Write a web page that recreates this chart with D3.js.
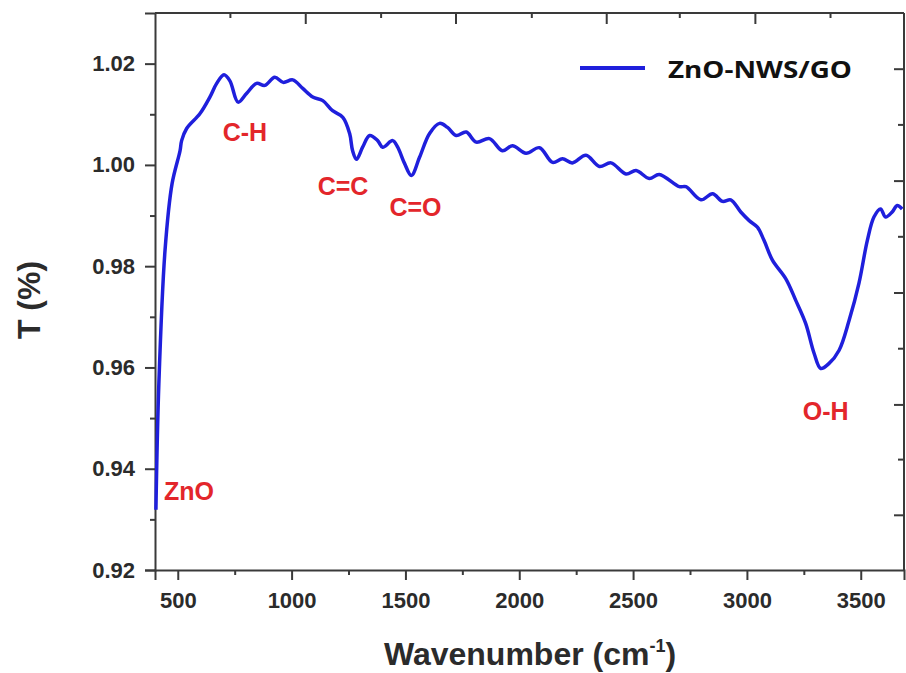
<!DOCTYPE html>
<html>
<head>
<meta charset="utf-8">
<script src="https://cdn.jsdelivr.net/npm/d3@7"></script>
<style>
  body { margin: 0; background: #fff; }
  svg { display: block; }
</style>
</head>
<body>
<svg width="906" height="673"></svg>
<script>
// FTIR spectrum, ZnO-NWS/GO
const wavenumber = [404, 417, 444, 475, 510, 517, 539, 597, 641, 671, 703, 729, 765, 802, 846, 882, 926, 963, 1005, 1049,
  1093, 1137, 1180, 1225, 1255, 1268, 1285, 1312, 1343, 1378, 1400, 1444, 1466, 1496, 1526, 1562, 1606, 1650, 1685, 1723,
  1767, 1811, 1869, 1926, 1970, 2030, 2089, 2146, 2190, 2233, 2293, 2352, 2403, 2469, 2513, 2571, 2615, 2703, 2732, 2798,
  2849, 2893, 2929, 2973, 3010, 3046, 3075, 3112, 3171, 3214, 3258, 3295, 3324, 3361, 3405, 3449, 3492, 3529, 3558, 3587,
  3609, 3638, 3660, 3682];
const transmittance = [0.9319, 0.9569, 0.9831, 0.9963, 1.0028, 1.0048, 1.0072, 1.0101, 1.0134, 1.0161, 1.0178, 1.0166, 1.0124, 1.0141, 1.0161, 1.0157, 1.0173, 1.0163, 1.0168, 1.0151,
  1.0134, 1.0127, 1.0107, 1.0094, 1.0062, 1.0028, 1.0011, 1.0035, 1.0058, 1.0048, 1.0035, 1.0048, 1.0035, 1.0003, 0.9979, 1.0015, 1.0062, 1.0082, 1.0074, 1.0058,
  1.0065, 1.0045, 1.0052, 1.0028, 1.0038, 1.0023, 1.0034, 1.0005, 1.0012, 1.0004, 1.0019, 0.9997, 1.0004, 0.9982, 0.9989, 0.9973, 0.9981, 0.9957, 0.9957, 0.9931,
  0.9943, 0.9928, 0.9931, 0.9907, 0.9890, 0.9877, 0.9851, 0.9812, 0.9775, 0.9733, 0.9687, 0.9628, 0.9598, 0.9608, 0.9634, 0.9693, 0.9766, 0.9851, 0.9897, 0.9913,
  0.9897, 0.9907, 0.9920, 0.9913];

const seriesName = "ZnO-NWS/GO";

// band labels
const bandLabels = ["ZnO", "C-H", "C=C", "C=O", "O-H"];
const bandX = [549, 795, 1226, 1544, 3346];
const bandY = [0.9339, 1.0048, 0.9940, 0.9900, 0.9496];

// ticks
const xMajorTicks = [500, 1000, 1500, 2000, 2500, 3000, 3500];
const xMinorTicks = [750, 1250, 1750, 2250, 2750, 3250];
const yMajorTicks = [0.92, 0.94, 0.96, 0.98, 1.00, 1.02];
const yMinorTicks = [0.93, 0.95, 0.97, 0.99, 1.01];
const topMajorTicks = [1060, 1720, 2382, 3035];
const topMinorTicks = [729, 1391, 2053, 2703, 3365];
const rightMajorTicks = [1.0190, 0.9969, 0.9748, 0.9527, 0.9309];
const rightMinorTicks = [1.0080, 0.9859, 0.9638, 0.9419];

const svg = d3.select("svg");
const plotLeft = 155, plotRight = 904, plotTop = 13, plotBottom = 570;

const x = d3.scaleLinear().domain([400, 3690]).range([plotLeft, plotRight]);
const y = d3.scaleLinear().domain([0.92, 1.03]).range([plotBottom, plotTop]);

const axisColor = "#3a3a3a";
const tickFont = "'Liberation Sans', Arial, sans-serif";

// frame (top / right)
svg.append("line").attr("x1", plotLeft).attr("x2", plotRight).attr("y1", plotTop).attr("y2", plotTop)
  .attr("stroke", axisColor).attr("stroke-width", 2);
svg.append("line").attr("x1", plotRight).attr("x2", plotRight).attr("y1", plotTop).attr("y2", plotBottom)
  .attr("stroke", axisColor).attr("stroke-width", 2);

// bottom axis
svg.append("g").attr("transform", `translate(0,${plotBottom})`)
  .call(d3.axisBottom(x).tickValues(xMajorTicks).tickSize(10).tickPadding(12).tickFormat(d3.format("d")));
svg.append("g").attr("transform", `translate(0,${plotBottom})`)
  .call(d3.axisBottom(x).tickValues(xMinorTicks).tickSize(5).tickFormat(""))
  .select(".domain").remove();

// left axis
svg.append("g").attr("transform", `translate(${plotLeft},0)`)
  .call(d3.axisLeft(y).tickValues(yMajorTicks).tickSize(10).tickPadding(10).tickFormat(d3.format(".2f")));
svg.append("g").attr("transform", `translate(${plotLeft},0)`)
  .call(d3.axisLeft(y).tickValues(yMinorTicks).tickSize(5).tickFormat(""))
  .select(".domain").remove();

// top + right ticks (inward)
svg.append("g").attr("transform", `translate(0,${plotTop})`)
  .call(d3.axisBottom(x).tickValues(topMajorTicks).tickSize(11).tickFormat(""))
  .select(".domain").remove();
svg.append("g").attr("transform", `translate(0,${plotTop})`)
  .call(d3.axisBottom(x).tickValues(topMinorTicks).tickSize(5).tickFormat(""))
  .select(".domain").remove();
svg.append("g").attr("transform", `translate(${plotRight},0)`)
  .call(d3.axisLeft(y).tickValues(rightMajorTicks).tickSize(10).tickFormat(""))
  .select(".domain").remove();
svg.append("g").attr("transform", `translate(${plotRight},0)`)
  .call(d3.axisLeft(y).tickValues(rightMinorTicks).tickSize(6).tickFormat(""))
  .select(".domain").remove();

svg.selectAll(".domain").attr("stroke", axisColor).attr("stroke-width", 2);
svg.selectAll(".tick line").attr("stroke", axisColor).attr("stroke-width", 2);
svg.selectAll(".tick text")
  .attr("fill", "#2b2b2b")
  .style("font-family", tickFont)
  .style("font-weight", "bold")
  .style("font-size", "22px");

// curve
const points = wavenumber.map((w, i) => [w, transmittance[i]]);
const line = d3.line()
  .x((d) => x(d[0]))
  .y((d) => y(d[1]))
  .curve(d3.curveCatmullRom.alpha(0.5));
svg.append("path")
  .datum(points)
  .attr("d", line)
  .attr("fill", "none")
  .attr("stroke", "#1f1fdc")
  .attr("stroke-width", 3.5)
  .attr("stroke-linejoin", "round");

// band labels
svg.append("g").selectAll("text")
  .data(bandLabels)
  .enter()
  .append("text")
  .attr("x", (d, i) => x(bandX[i]))
  .attr("y", (d, i) => y(bandY[i]))
  .attr("text-anchor", "middle")
  .attr("fill", "#e3262b")
  .style("font-family", tickFont)
  .style("font-weight", "bold")
  .style("font-size", "25px")
  .text((d) => d);

// legend
const legend = svg.append("g");
legend.append("line")
  .attr("x1", 580).attr("x2", 645).attr("y1", 68).attr("y2", 68)
  .attr("stroke", "#1f1fdc").attr("stroke-width", 4);
legend.append("text")
  .attr("x", 668).attr("y", 78)
  .attr("fill", "#111")
  .attr("textLength", 184)
  .attr("lengthAdjust", "spacingAndGlyphs")
  .style("font-family", "'Open Sans', sans-serif")
  .style("font-weight", "bold")
  .style("font-size", "24px")
  .text(seriesName);

// axis titles
const xTitle = svg.append("text")
  .attr("x", 530).attr("y", 665)
  .attr("text-anchor", "middle")
  .attr("fill", "#2b2b2b")
  .style("font-family", tickFont)
  .style("font-weight", "bold")
  .style("font-size", "32px");
xTitle.append("tspan").text("Wavenumber (cm");
xTitle.append("tspan").attr("dy", -13).style("font-size", "18px").text("-1");
xTitle.append("tspan").attr("dy", 13).text(")");

svg.append("text")
  .attr("transform", "translate(40,300) rotate(-90)")
  .attr("text-anchor", "middle")
  .attr("fill", "#2b2b2b")
  .style("font-family", tickFont)
  .style("font-weight", "bold")
  .style("font-size", "32px")
  .text("T (%)");
</script>
</body>
</html>
